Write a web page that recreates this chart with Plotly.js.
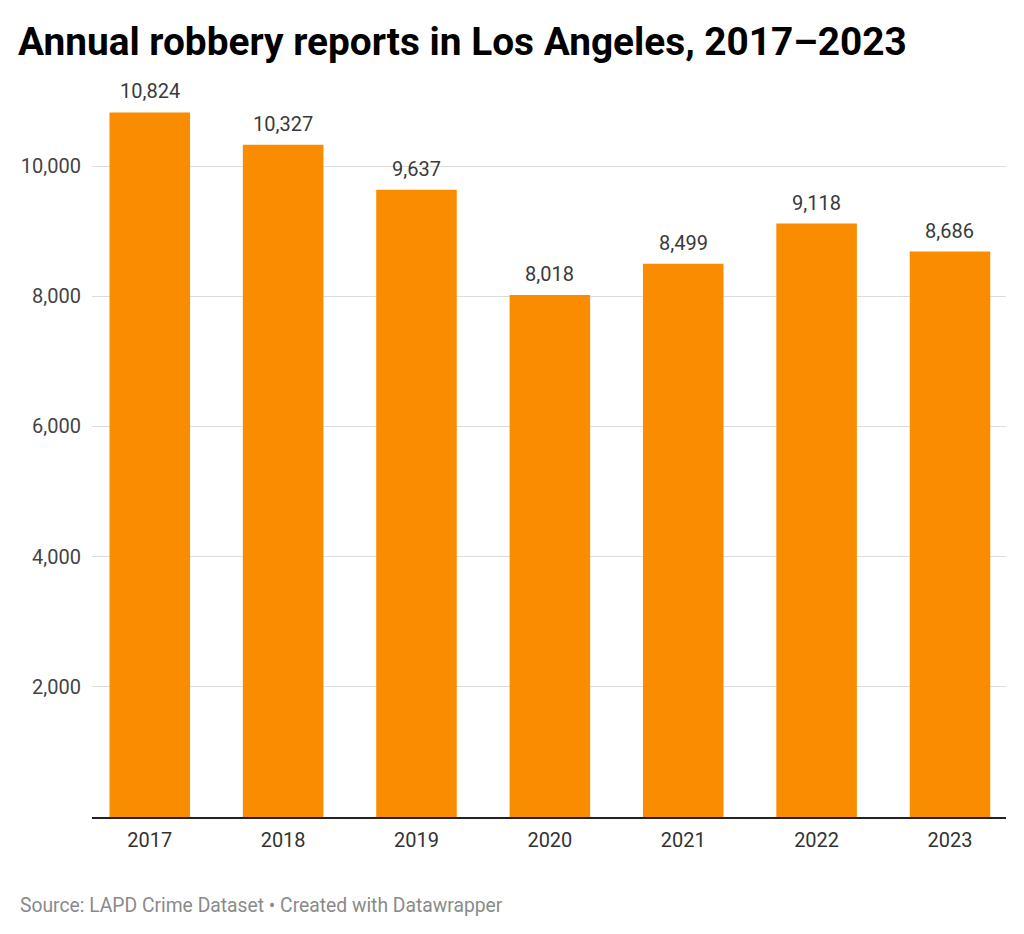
<!DOCTYPE html>
<html><head><meta charset="utf-8">
<script src="https://cdn.plot.ly/plotly-3.0.1.min.js"></script>
<style>body{margin:0;background:#fff}#chart{width:1024px;height:934px}</style>
</head><body><div id="chart"></div>
<script>
const years = ["2017","2018","2019","2020","2021","2022","2023"];
const robberies = [10824, 10327, 9637, 8018, 8499, 9118, 8686];
const valueLabels = ["10,824","10,327","9,637","8,018","8,499","9,118","8,686"];
const yTicks = [2000, 4000, 6000, 8000, 10000];
const yTickText = ["2,000","4,000","6,000","8,000","10,000"];

const FONT = "Roboto, 'Noto Sans', sans-serif";
const trace = {
  type: "bar", x: years, y: robberies,
  marker: {color: "#F98C00"}, width: 0.604,
  hoverinfo: "skip"
};
const annotations = years.map((yr, i) => ({
  x: i, y: robberies[i], xref: "x", yref: "y",
  text: valueLabels[i], showarrow: false, yanchor: "bottom", yshift: 7,
  font: {family: FONT, size: 20, color: "#3a3a3a"}
}));
annotations.push({
  xref: "paper", yref: "paper", x: 0, y: 0, xanchor: "left", yanchor: "top",
  xshift: -74, yshift: -75,
  text: "Source: LAPD Crime Dataset • Created with Datawrapper", showarrow: false,
  font: {family: FONT, size: 19.3, color: "#8a8a8a"}
});
const layout = {
  width: 1024, height: 934,
  margin: {l: 92, r: 18, t: 101, b: 117},
  paper_bgcolor: "#fff", plot_bgcolor: "#fff",
  title: {text: "<b>Annual robbery reports in Los Angeles, 2017–2023</b>", x: 18/1024, xanchor: "left",
          y: 1 - 41/934, yanchor: "middle",
          font: {family: FONT, size: 38.8, color: "#000"}},
  bargap: 0.4,
  xaxis: {type: "category", range: [-0.433, 6.42], showgrid: false,
          showline: true, linecolor: "#222", linewidth: 1.5,
          ticks: "", ticklabelstandoff: 4,
          tickfont: {family: FONT, size: 20, color: "#333"}},
  yaxis: {range: [0, 11000], tickvals: yTicks, ticktext: yTickText,
          showgrid: true, gridcolor: "#dcdcdc", gridwidth: 1, zeroline: false,
          ticks: "", ticklabelstandoff: 10,
          tickfont: {family: FONT, size: 20, color: "#444"}},
  annotations: annotations,
  showlegend: false
};
Plotly.newPlot("chart", [trace], layout, {displayModeBar: false, staticPlot: true});
</script></body></html>
